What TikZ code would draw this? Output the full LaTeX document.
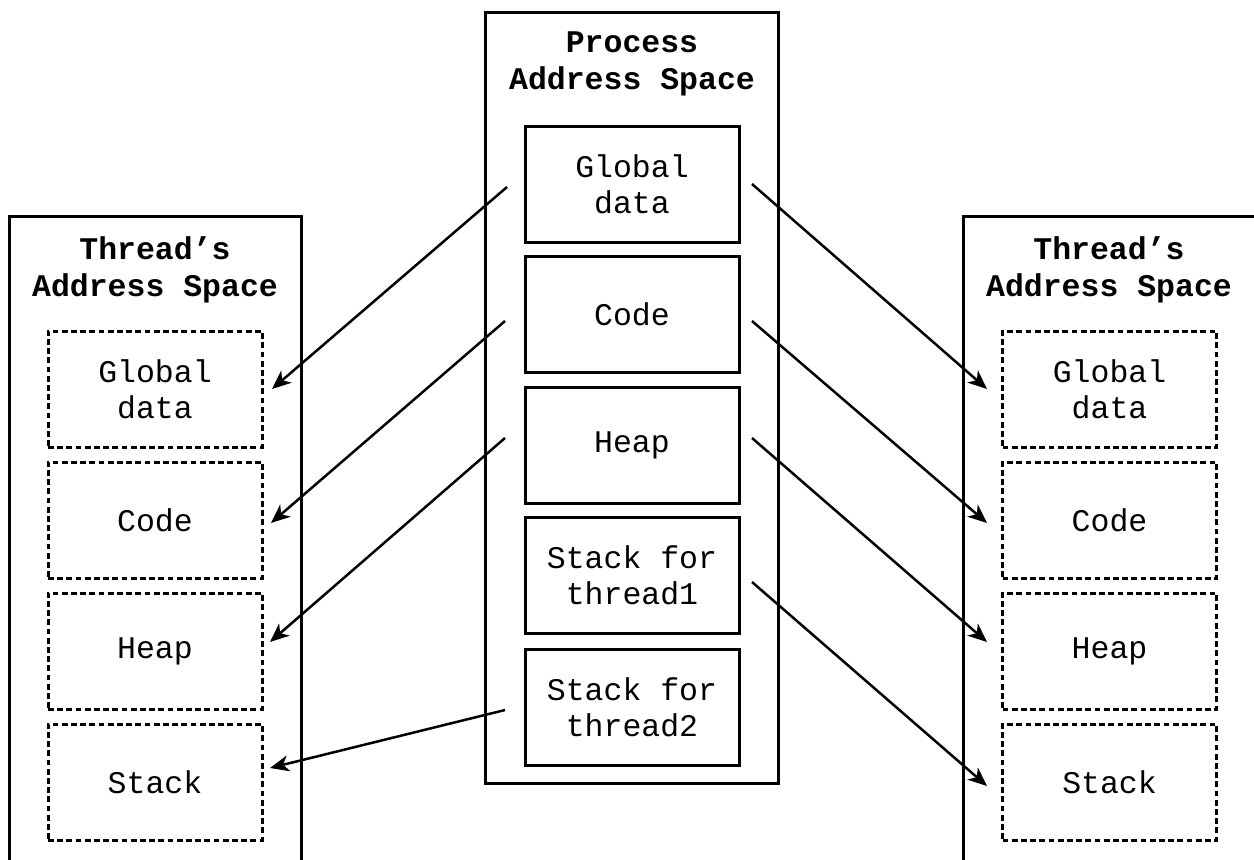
\documentclass[tikz,border=0pt]{standalone}
\usepackage{fontspec}
\newfontfamily\codefont{Liberation Mono}
\usetikzlibrary{arrows.meta}
\begin{document}
\begin{tikzpicture}[x=0.5pt,y=-0.5pt,
  every node/.style={inner sep=0pt, outer sep=0pt},
  txt/.style={font=\codefont\fontsize{15.75pt}{18pt}\selectfont, align=center},
  ttl/.style={font=\codefont\bfseries\fontsize{15.75pt}{18.5pt}\selectfont, align=center},
  outerbox/.style={draw, line width=1.5pt},
  segbox/.style={draw, line width=1.5pt, minimum width=107pt, minimum height=58pt, txt},
  tbox/.style={draw, line width=1.5pt, dash pattern=on 2.9pt off 1.7pt,
    minimum width=107pt, minimum height=58pt, txt},
  link/.style={line width=1.25pt, -{Stealth[length=9.5pt,width=8pt,inset=2.8pt]}}
]
\useasboundingbox (0,0) rectangle (1254,859);
\clip (0,0) rectangle (1254,859);

% process address space
\node[outerbox, minimum width=146.5pt, minimum height=385.5pt] (proc) at (631.5,397.5) {};
\node[ttl] (proct) at (632,64) {Process\\Address Space};
\node[segbox] (pg) at (632,184) {Global\\data};
\node[segbox] (pc) at (632,314) {Code};
\node[segbox] (ph) at (632,445) {Heap};
\node[segbox] (ps1) at (632,575.5) {Stack for\\thread1};
\node[segbox] (ps2) at (632,707) {Stack for\\thread2};

% thread 1 address space (left)
\node[outerbox, minimum width=146pt, minimum height=400pt] (ta) at (155,616) {};
\node[ttl] (tat) at (155,270) {Thread’s\\Address Space};
\node[tbox] (ag) at (155,389) {Global\\data};
\node[tbox] (ac) at (155,520) {Code};
\node[tbox] (ah) at (155,651) {Heap};
\node[tbox] (as) at (155,782) {Stack};

% thread 2 address space (right)
\node[outerbox, minimum width=146pt, minimum height=400pt] (tb) at (1109,616) {};
\node[ttl] (tbt) at (1109,270) {Thread’s\\Address Space};
\node[tbox] (bg) at (1109.5,389) {Global\\data};
\node[tbox] (bc) at (1109.5,520) {Code};
\node[tbox] (bh) at (1109.5,651) {Heap};
\node[tbox] (bs) at (1109.5,782) {Stack};

% arrow end points
\coordinate (l1s) at (507,187); \coordinate (l1e) at (272,389);
\coordinate (l2s) at (505,321); \coordinate (l2e) at (271,523);
\coordinate (l3s) at (505,438); \coordinate (l3e) at (270,642);
\coordinate (l4s) at (505,710); \coordinate (l4e) at (270,768);
\coordinate (r1s) at (752,184); \coordinate (r1e) at (987,389);
\coordinate (r2s) at (752,321); \coordinate (r2e) at (987,523);
\coordinate (r3s) at (752,438); \coordinate (r3e) at (987,642);
\coordinate (r4s) at (752,582); \coordinate (r4e) at (987,786);

\draw[link] (l1s) -- (l1e);
\draw[link] (l2s) -- (l2e);
\draw[link] (l3s) -- (l3e);
\draw[link] (l4s) -- (l4e);
\draw[link] (r1s) -- (r1e);
\draw[link] (r2s) -- (r2e);
\draw[link] (r3s) -- (r3e);
\draw[link] (r4s) -- (r4e);
\end{tikzpicture}
\end{document}
